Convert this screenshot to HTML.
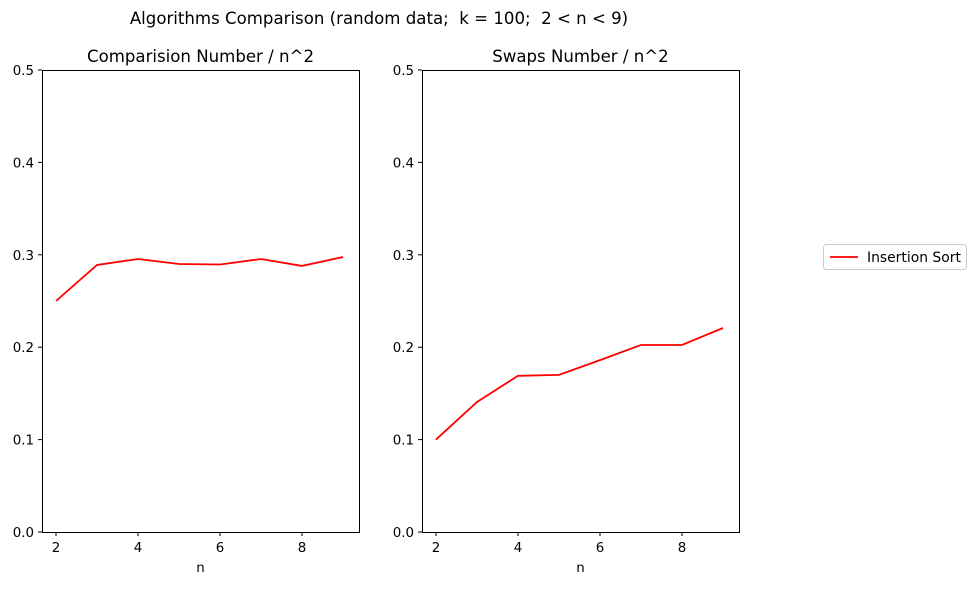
<!DOCTYPE html>
<html><head><meta charset="utf-8"><style>
body{margin:0;background:#fff;}
svg text{font-family:"DejaVu Sans","Liberation Sans",sans-serif;fill:#000;white-space:pre;}
</style></head><body>
<svg id="chart" width="976" height="585" viewBox="0 0 976 585">
<rect width="976" height="585" fill="#fff"/>
<text x="379" y="24" font-size="16.6" text-anchor="middle" xml:space="preserve">Algorithms Comparison (random data;  k = 100;  2 &lt; n &lt; 9)</text>
<g id="panels"></g>
<g>
<rect x="823.5" y="244.5" width="143" height="25" rx="3" fill="#fff" stroke="#ccc"/>
<line x1="830" y1="257" x2="858" y2="257" stroke="red" stroke-width="1.8"/>
<text x="867" y="262" font-size="13.9">Insertion Sort</text>
</g>
</svg>
<script>
const nValues=[2,3,4,5,6,7,8,9];
const comparisons=[0.25,0.289,0.2955,0.29,0.2895,0.2955,0.288,0.2976];
const swaps=[0.1,0.1407,0.169,0.17,0.186,0.2024,0.2024,0.2208];
const xTicks=[2,4,6,8];
const yTicks=[0,0.1,0.2,0.3,0.4,0.5];
const titles=["Comparision Number / n^2","Swaps Number / n^2"];
const NS="http://www.w3.org/2000/svg";
const g=document.getElementById('panels');
function mk(t,a,p){const e=document.createElementNS(NS,t);for(const k in a)e.setAttribute(k,a[k]);(p||g).appendChild(e);return e;}
[[42,comparisons,'comparisons'],[422,swaps,'swaps']].forEach(([x0,vals,nm],i)=>{
 const x1=x0+317,top=70,bot=532;
 const xs=v=>x0+14+(v-2)*41, ys=v=>bot-(v/0.5)*(bot-top);
 const pg=mk('g',{});
 
 
 yTicks.forEach(t=>{const y=ys(t);mk('line',{x1:x0-4,x2:x0,y1:y,y2:y,stroke:'#000'},pg);
  const tx=mk('text',{x:x0-8,y:y+5,'font-size':'13.4','text-anchor':'end'},pg);tx.textContent=t.toFixed(1);
  });
 xTicks.forEach(t=>{const x=xs(t);mk('line',{x1:x,x2:x,y1:bot,y2:bot+4,stroke:'#000'},pg);
  const tx=mk('text',{x:x,y:bot+20,'font-size':'13.4','text-anchor':'middle'},pg);tx.textContent=t;
  });
 const pts=nValues.map((n,j)=>xs(n).toFixed(1)+','+ys(vals[j]).toFixed(1)).join(' ');
 const ln=mk('polyline',{points:pts,fill:'none',stroke:'red','stroke-width':'1.8'},pg);
 
 mk('rect',{x:x0+0.5,y:top+0.5,width:317,height:462,fill:'none',stroke:'#000'},pg);
 const tt=mk('text',{x:(x0+x1)/2,y:62,'font-size':'16.6','text-anchor':'middle'},pg);tt.textContent=titles[i];
 
 const xl=mk('text',{x:(x0+x1)/2,y:572,'font-size':'13.4','text-anchor':'middle'},pg);xl.textContent='n';
 
});
</script>
</body></html>
